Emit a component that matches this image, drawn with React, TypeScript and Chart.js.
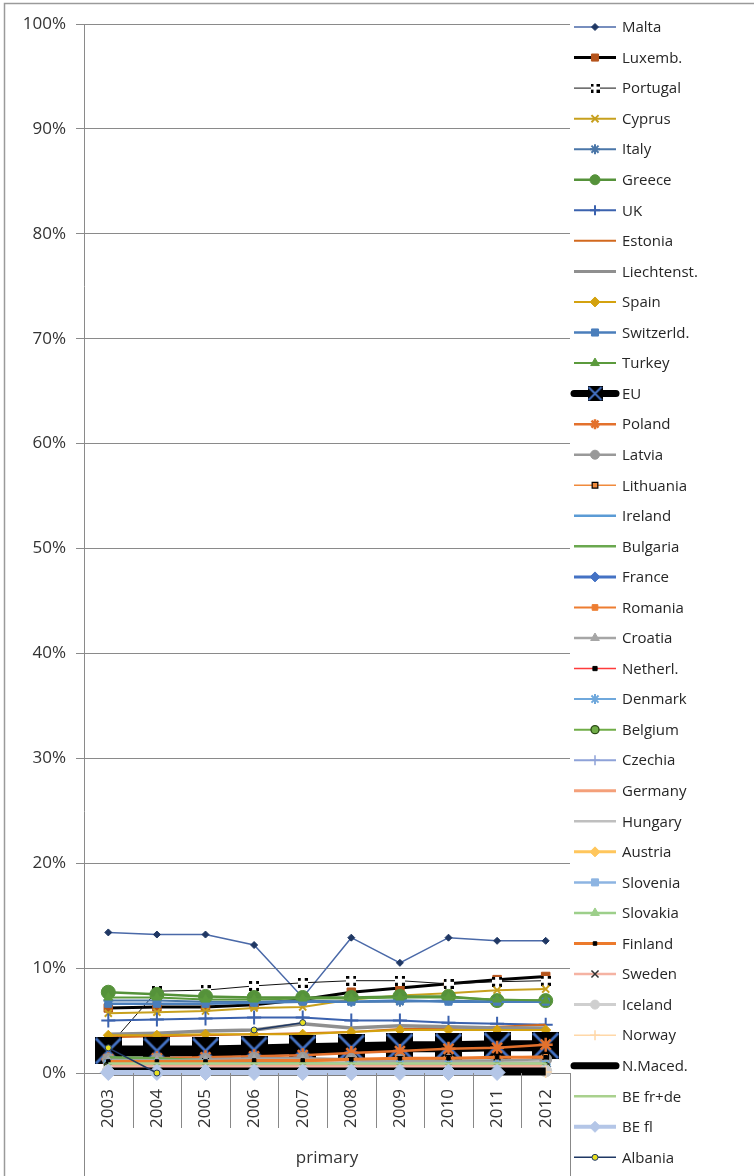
import React, { useEffect, useRef } from 'react';
import { Chart, registerables, PointElement } from 'chart.js';

Chart.register(...registerables);

// ---------- data ----------
const years = ['2003', '2004', '2005', '2006', '2007', '2008', '2009', '2010', '2011', '2012'];
const groupLabel = 'primary';
const yTickStep = 10;
const yMax = 100;

const malta = [13.4, 13.2, 13.2, 12.2, 7.2, 12.9, 10.5, 12.9, 12.6, 12.6];
const luxemb = [6.2, 6.3, 6.3, 6.5, 7.0, 7.7, 8.1, 8.5, 8.9, 9.2];
const portugal = [2.5, 7.8, 7.9, 8.3, 8.6, 8.8, 8.8, 8.5, 8.7, 8.8];
const cyprus = [5.7, 5.8, 5.9, 6.2, 6.3, 7.0, 7.4, 7.6, 7.9, 8.0];
const italy = [6.9, 6.9, 6.8, 6.8, 6.9, 6.8, 6.8, 6.9, 6.8, 6.8];
const greece = [7.7, 7.5, 7.3, 7.2, 7.2, 7.2, 7.3, 7.3, 6.9, 6.9];
const uk = [5.0, 5.1, 5.2, 5.3, 5.3, 5.0, 5.0, 4.8, 4.7, 4.6];
const estonia = [3.4, 3.5, 3.6, 3.7, 3.8, 3.9, 4.2, 4.3, 4.4, 4.6];
const liechtenst = [3.7, 3.8, 4.0, 4.1, 4.7, 4.3, 4.5, 4.4, 4.3, 4.3];
const spain = [3.6, 3.6, 3.7, 3.7, 3.7, 3.9, 4.1, 4.1, 4.1, 4.1];
const switzerld = [6.6, 6.6, 6.6, 6.7, 6.8, 6.8, 6.9, 6.8, 6.8, 6.8];
const turkey = [7.2, 7.2, 7.0, 7.0, 7.1, 7.1, 7.2, 7.2, 7.0, 6.9];
const eu = [2.1, 2.1, 2.1, 2.2, 2.3, 2.4, 2.5, 2.5, 2.6, 2.6];
const poland = [1.3, 1.4, 1.5, 1.6, 1.7, 1.9, 2.1, 2.3, 2.4, 2.7];
const latvia = [1.3, 1.3, 1.3, 1.4, 1.4, 1.3, 1.2, 1.2, 1.2, 1.3];
const lithuania = [1.0, 1.0, 1.1, 1.1, 1.1, 1.2, 1.3, 1.4, 1.5, 1.6];
const ireland = [1.0, 1.0, 1.0, 1.0, 0.9, 0.9, 0.9, 0.9, 0.9, 0.9];
const bulgaria = [1.5, 1.4, 1.2, 1.0, 0.9, 0.8, 0.8, 0.8, 0.8, 0.8];
const france = [1.0, 0.9, 0.9, 0.9, 0.8, 0.7, 0.6, 0.6, 0.6, 0.6];
const romania = [0.5, 0.5, 0.5, 0.6, 0.6, 0.6, 0.7, 0.7, 0.8, 0.8];
const croatia = [1.2, 1.2, 1.2, 1.3, 1.3, 1.2, 1.1, 1.1, 1.0, 1.0];
const netherl = [0.4, 0.4, 0.4, 0.4, 0.4, 0.4, 0.5, 0.5, 0.5, 0.5];
const denmark = [0.9, 0.9, 0.9, 0.8, 0.8, 0.8, 0.8, 0.8, 0.8, 0.8];
const belgium = [0.7, 0.7, 0.7, 0.7, 0.7, 0.6, 0.6, 0.6, 0.6, 0.6];
const czechia = [0.3, 0.3, 0.3, 0.3, 0.3, 0.3, 0.3, 0.3, 0.3, 0.3];
const germany = [0.8, 0.8, 0.8, 0.8, 0.8, 0.7, 0.7, 0.7, 0.7, 0.7];
const hungary = [0.5, 0.5, 0.5, 0.5, 0.5, 0.5, 0.5, 0.5, 0.5, 0.5];
const austria = [0.4, 0.4, 0.4, 0.4, 0.4, 0.4, 0.4, 0.4, 0.4, 0.4];
const slovenia = [0.3, 0.3, 0.3, 0.3, 0.3, 0.3, 0.3, 0.3, 0.3, 0.3];
const slovakia = [0.5, 0.5, 0.5, 0.5, 0.5, 0.5, 0.5, 0.5, 0.5, 0.5];
const finland = [1.1, 1.1, 1.1, 1.2, 1.2, 1.3, 1.4, 1.4, 1.5, 1.5];
const sweden = [0.6, 0.6, 0.6, 0.6, 0.6, 0.6, 0.6, 0.6, 0.6, 0.6];
const iceland = [0.2, 0.2, 0.2, 0.2, 0.2, 0.2, 0.2, 0.2, 0.2, 0.2];
const norway = [0.1, 0.1, 0.1, 0.1, 0.1, 0.1, 0.1, 0.1, 0.1, 0.1];
const nMaced = [0.15, 0.15, 0.15, 0.15, 0.15, 0.15, 0.15, 0.15, 0.15, 0.15];
const beFrDe = [0.9, 0.9, 0.9, 0.9, 0.9, 0.9, 0.9, 0.9, 0.9, 0.9];
const beFl = [0.05, 0.05, 0.05, 0.05, 0.05, 0.05, 0.05, 0.05, 0.05, null];
const albania = [2.4, 0.0, null, 4.1, 4.8, null, null, null, null, null];

// ---------- styles ----------
type Style = {
  color: string;
  width: number;
  marker?: any;
  radius?: number;
  fill?: string;
  mBorder?: string;
  mWidth?: number;
  legendWidth?: number;
  legendRadius?: number;
};

function makeEuMarker(size: number) {
  const c = document.createElement('canvas');
  c.width = size;
  c.height = size;
  const g = c.getContext('2d')!;
  g.fillStyle = '#000';
  g.fillRect(0, 0, size, size);
  g.strokeStyle = '#4472c4';
  g.lineWidth = Math.max(2, size / 10);
  g.beginPath();
  g.moveTo(1, 1);
  g.lineTo(size - 1, size - 1);
  g.moveTo(size - 1, 1);
  g.lineTo(1, size - 1);
  g.stroke();
  return c;
}

function makePortugalMarker(size: number) {
  const c = document.createElement('canvas');
  c.width = size;
  c.height = size;
  const g = c.getContext('2d')!;
  g.fillStyle = '#fff';
  g.fillRect(0, 0, size, size);
  g.fillStyle = '#000';
  const d = Math.round(size / 3);
  g.fillRect(0, 0, d, d);
  g.fillRect(size - d, 0, d, d);
  g.fillRect(0, size - d, d, d);
  g.fillRect(size - d, size - d, d, d);
  return c;
}

const FONT = '"Open Sans", "Liberation Sans", sans-serif';

export default function App() {
  const ref = useRef<HTMLCanvasElement>(null);

  useEffect(() => {
    const euBig = makeEuMarker(27);
    const euSmall = makeEuMarker(15);
    const ptBig = makePortugalMarker(10);
    const ptSmall = makePortugalMarker(9);

    const series: { label: string; data: (number | null)[]; s: Style; legendMarker?: any }[] = [
      { label: 'Malta', data: malta, s: { color: '#4a69a8', width: 1.5, marker: 'rectRot', radius: 3.5, fill: '#203864', mBorder: '#203864', mWidth: 1 } },
      { label: 'Luxemb.', data: luxemb, s: { color: '#000000', width: 3, marker: 'rect', radius: 6, fill: '#b5541c', mBorder: '#b5541c', mWidth: 1, legendRadius: 5 } },
      { label: 'Portugal', data: portugal, s: { color: '#111111', width: 1, marker: ptBig }, legendMarker: ptSmall },
      { label: 'Cyprus', data: cyprus, s: { color: '#c7a01e', width: 2, marker: 'crossRot', radius: 5, fill: '#c7a01e', mBorder: '#c7a01e', mWidth: 2 } },
      { label: 'Italy', data: italy, s: { color: '#4a76a8', width: 2, marker: 'star', radius: 5, fill: '#4a76a8', mBorder: '#4a76a8', mWidth: 2 } },
      { label: 'Greece', data: greece, s: { color: '#55923a', width: 2.5, marker: 'circle', radius: 7, fill: '#55923a', mBorder: '#55923a', mWidth: 1, legendRadius: 5 } },
      { label: 'UK', data: uk, s: { color: '#3b62ae', width: 2, marker: 'cross', radius: 7, fill: '#3b62ae', mBorder: '#3b62ae', mWidth: 2, legendRadius: 5 } },
      { label: 'Estonia', data: estonia, s: { color: '#d2691e', width: 2 } },
      { label: 'Liechtenst.', data: liechtenst, s: { color: '#8f8f8f', width: 3.5, legendWidth: 3 } },
      { label: 'Spain', data: spain, s: { color: '#d4a20f', width: 2, marker: 'rectRot', radius: 5, fill: '#d4a20f', mBorder: '#d4a20f', mWidth: 1 } },
      { label: 'Switzerld.', data: switzerld, s: { color: '#4a7ebb', width: 2.5, marker: 'rect', radius: 5, fill: '#4a7ebb', mBorder: '#4a7ebb', mWidth: 1 } },
      { label: 'Turkey', data: turkey, s: { color: '#5b9a3c', width: 2, marker: 'triangle', radius: 5, fill: '#5b9a3c', mBorder: '#5b9a3c', mWidth: 1 } },
      { label: 'EU', data: eu, s: { color: '#000000', width: 11, marker: euBig, legendWidth: 7 }, legendMarker: euSmall },
      { label: 'Poland', data: poland, s: { color: '#e3712d', width: 2.5, marker: 'star', radius: 7, fill: '#e3712d', mBorder: '#e3712d', mWidth: 2.5, legendRadius: 5 } },
      { label: 'Latvia', data: latvia, s: { color: '#999999', width: 2.5, marker: 'circle', radius: 6, fill: '#999999', mBorder: '#999999', mWidth: 1, legendRadius: 4.5 } },
      { label: 'Lithuania', data: lithuania, s: { color: '#f08a3c', width: 1.5, marker: 'rect', radius: 4, fill: '#f08a3c', mBorder: '#000000', mWidth: 1.2 } },
      { label: 'Ireland', data: ireland, s: { color: '#5b9bd5', width: 2.5 } },
      { label: 'Bulgaria', data: bulgaria, s: { color: '#6aa84f', width: 2.5 } },
      { label: 'France', data: france, s: { color: '#4472c4', width: 3, marker: 'rectRot', radius: 5, fill: '#4472c4', mBorder: '#4472c4', mWidth: 1 } },
      { label: 'Romania', data: romania, s: { color: '#ed7d31', width: 2, marker: 'rect', radius: 4, fill: '#ed7d31', mBorder: '#ed7d31', mWidth: 1 } },
      { label: 'Croatia', data: croatia, s: { color: '#a6a6a6', width: 2.5, marker: 'triangle', radius: 5, fill: '#a6a6a6', mBorder: '#a6a6a6', mWidth: 1 } },
      { label: 'Netherl.', data: netherl, s: { color: '#ff3b3b', width: 1.5, marker: 'rect', radius: 3, fill: '#000000', mBorder: '#000000', mWidth: 1 } },
      { label: 'Denmark', data: denmark, s: { color: '#6fa8dc', width: 2, marker: 'star', radius: 5, fill: '#6fa8dc', mBorder: '#6fa8dc', mWidth: 2 } },
      { label: 'Belgium', data: belgium, s: { color: '#70ad47', width: 2, marker: 'circle', radius: 4, fill: '#70ad47', mBorder: '#2b4a16', mWidth: 1.3 } },
      { label: 'Czechia', data: czechia, s: { color: '#8ea2d8', width: 2, marker: 'cross', radius: 6, fill: '#8ea2d8', mBorder: '#8ea2d8', mWidth: 1.5 } },
      { label: 'Germany', data: germany, s: { color: '#f4a07a', width: 3 } },
      { label: 'Hungary', data: hungary, s: { color: '#bfbfbf', width: 2.5 } },
      { label: 'Austria', data: austria, s: { color: '#ffc65c', width: 3, marker: 'rectRot', radius: 5, fill: '#ffc65c', mBorder: '#ffc65c', mWidth: 1 } },
      { label: 'Slovenia', data: slovenia, s: { color: '#8db4e2', width: 2.5, marker: 'rect', radius: 5, fill: '#8db4e2', mBorder: '#8db4e2', mWidth: 1 } },
      { label: 'Slovakia', data: slovakia, s: { color: '#9dcf8a', width: 2.5, marker: 'triangle', radius: 5, fill: '#9dcf8a', mBorder: '#9dcf8a', mWidth: 1 } },
      { label: 'Finland', data: finland, s: { color: '#ec7a2c', width: 3, marker: 'rect', radius: 2.5, fill: '#000000', mBorder: '#000000', mWidth: 1 } },
      { label: 'Sweden', data: sweden, s: { color: '#f5b3a3', width: 2.5, marker: 'crossRot', radius: 5, fill: '#333333', mBorder: '#333333', mWidth: 1.5 } },
      { label: 'Iceland', data: iceland, s: { color: '#cfcfcf', width: 3, marker: 'circle', radius: 6, fill: '#cfcfcf', mBorder: '#cfcfcf', mWidth: 1, legendRadius: 4.5 } },
      { label: 'Norway', data: norway, s: { color: '#ffd8a8', width: 1.5, marker: 'cross', radius: 6, fill: '#ffd8a8', mBorder: '#ffd8a8', mWidth: 1.5 } },
      { label: 'N.Maced.', data: nMaced, s: { color: '#000000', width: 8, legendWidth: 7 } },
      { label: 'BE fr+de', data: beFrDe, s: { color: '#a9d18e', width: 2.5 } },
      { label: 'BE fl', data: beFl, s: { color: '#b4c6e7', width: 5, marker: 'rectRot', radius: 8, fill: '#b4c6e7', mBorder: '#b4c6e7', mWidth: 1, legendWidth: 4, legendRadius: 5.5 } },
      { label: 'Albania', data: albania, s: { color: '#1f3864', width: 1.5, marker: 'circle', radius: 3, fill: '#e8e020', mBorder: '#1f3864', mWidth: 1 } },
    ];

    const n = series.length;
    const datasets = series.map((d, i) => ({
      label: d.label,
      data: d.data,
      borderColor: d.s.color,
      backgroundColor: d.s.color,
      borderWidth: d.s.width,
      pointStyle: d.s.marker || 'circle',
      pointRadius: d.s.marker ? (d.s.radius || 5) : 0,
      pointHoverRadius: d.s.marker ? (d.s.radius || 5) : 0,
      pointBackgroundColor: d.s.fill || d.s.color,
      pointBorderColor: d.s.mBorder || d.s.color,
      pointBorderWidth: d.s.mWidth ?? 1,
      tension: 0,
      clip: false as any,
      spanGaps: false,
      order: n - i,
    }));

    const decorPlugin = {
      id: 'decor',
      afterDraw(chart: any) {
        const ctx = chart.ctx;
        const area = chart.chartArea;
        const xs = chart.scales.x;
        ctx.save();
        // outer chart border
        ctx.strokeStyle = '#9a9a9a';
        ctx.lineWidth = 1.5;
        ctx.strokeRect(4.5, 3.5, chart.width + 20, chart.height + 20);

        // category separators below the axis
        ctx.strokeStyle = '#888888';
        ctx.lineWidth = 1;
        const cnt = years.length;
        const step = (xs.right - xs.left) / cnt;
        for (let i = 0; i <= cnt; i++) {
          const x = Math.round(xs.left + i * step) + 0.5;
          const yEnd = i === 0 || i === cnt ? chart.height : area.bottom + 55;
          ctx.beginPath();
          ctx.moveTo(x, area.bottom);
          ctx.lineTo(x, yEnd);
          ctx.stroke();
        }
        // group label
        ctx.fillStyle = '#333333';
        ctx.font = '17px ' + FONT;
        ctx.textAlign = 'center';
        ctx.textBaseline = 'middle';
        ctx.fillText(groupLabel, (xs.left + xs.right) / 2, 1158);

        // legend
        const lx0 = area.right + 4;
        const lx1 = lx0 + 42;
        const mx = (lx0 + lx1) / 2;
        const whole = { left: 0, top: 0, right: chart.width, bottom: chart.height };
        series.forEach((d, i) => {
          const y = 27 + i * 30.55;
          ctx.strokeStyle = d.s.color;
          ctx.lineWidth = d.s.legendWidth ?? Math.min(d.s.width, 3);
          ctx.lineCap = d.s.width >= 7 ? 'round' : 'butt';
          ctx.beginPath();
          ctx.moveTo(lx0, y);
          ctx.lineTo(lx1, y);
          ctx.stroke();
          ctx.lineCap = 'butt';
          const mk = d.legendMarker || d.s.marker;
          if (mk) {
            const pe: any = new (PointElement as any)({
              x: mx,
              y,
              skip: false,
              options: {
                pointStyle: mk,
                radius: d.s.legendRadius ?? Math.min(d.s.radius || 5, 5),
                rotation: 0,
                borderWidth: d.s.mWidth ?? 1,
                borderColor: d.s.mBorder || d.s.color,
                backgroundColor: d.s.fill || d.s.color,
                hitRadius: 1,
              },
            });
            pe.draw(ctx, whole);
          }
          ctx.fillStyle = '#262626';
          ctx.font = '15px ' + FONT;
          ctx.textAlign = 'left';
          ctx.textBaseline = 'middle';
          ctx.fillText(d.label, lx1 + 6, y + 1);
        });
        ctx.restore();
      },
    };

    const chart = new Chart(ref.current!, {
      type: 'line',
      data: { labels: years, datasets: datasets as any },
      options: {
        animation: false,
        responsive: false,
        devicePixelRatio: 1,
        layout: { padding: { top: 24, right: 184, left: 0, bottom: 0 } },
        plugins: { legend: { display: false }, tooltip: { enabled: false } },
        events: [],
        scales: {
          x: {
            type: 'category',
            offset: true,
            grid: { display: false },
            border: { display: false },
            ticks: {
              color: '#333333',
              font: { family: FONT, size: 17 },
              maxRotation: 90,
              minRotation: 90,
              padding: 8,
              autoSkip: false,
            },
            afterFit: (s: any) => {
              s.height = 103;
            },
          },
          y: {
            min: 0,
            max: yMax,
            grid: { color: '#8a8a8a', lineWidth: 1, tickLength: 8 },
            border: { display: true, color: '#8a8a8a', width: 1 },
            ticks: {
              stepSize: yTickStep,
              color: '#333333',
              font: { family: FONT, size: 17 },
              padding: 10,
              callback: (v: any) => v + '%',
            },
            afterFit: (s: any) => {
              s.width = 84;
            },
          },
        },
      },
      plugins: [decorPlugin],
    });
    return () => chart.destroy();
  }, []);

  return (
    <div style={{ position: 'absolute', left: 0, top: 0, width: 754, height: 1176, background: '#fff' }}>
      <canvas ref={ref} width={754} height={1176} style={{ width: 754, height: 1176, display: 'block' }} />
    </div>
  );
}
